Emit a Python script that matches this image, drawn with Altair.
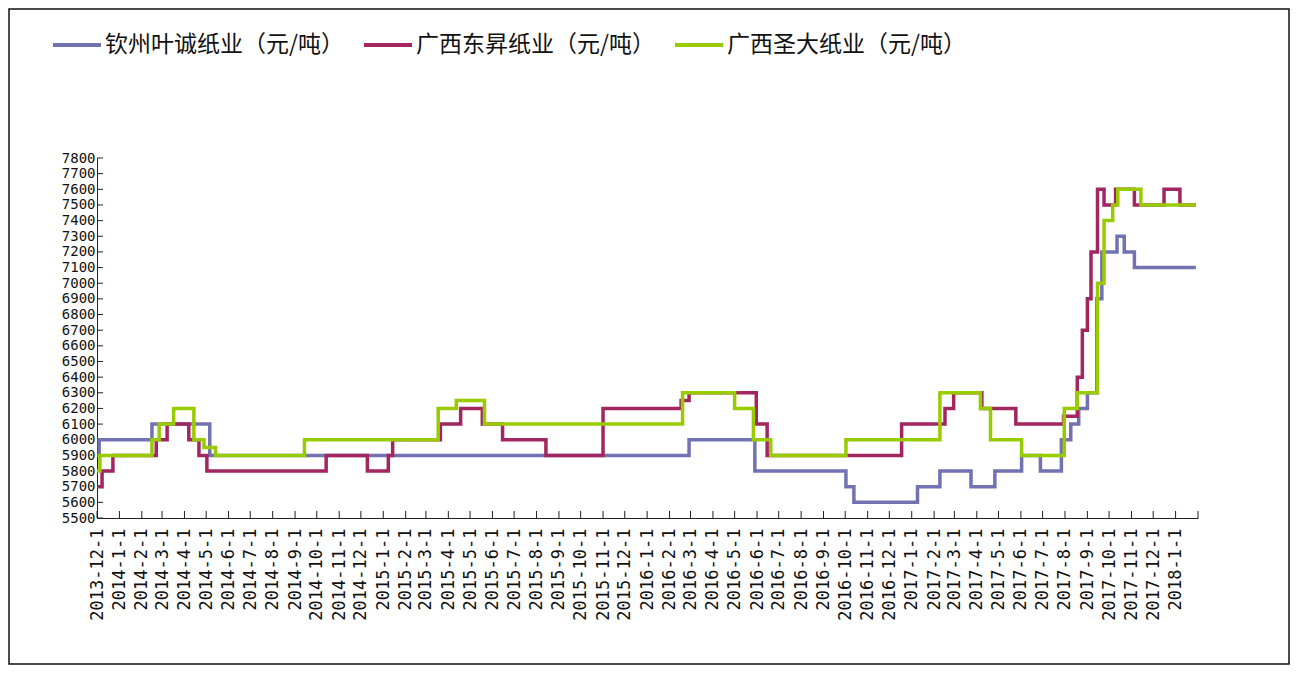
import altair as alt
import pandas as pd

SERIES = ["钦州叶诚纸业（元/吨）", "广西东昇纸业（元/吨）", "广西圣大纸业（元/吨）"]
COLORS = ["#7272b2", "#a2265f", "#99cc00"]

BLUE_DATES = ["2013-12-01", "2013-12-04", "2014-02-15", "2014-05-06", "2016-02-28", "2016-05-29",
              "2016-10-02", "2016-10-13", "2017-01-09", "2017-02-09", "2017-03-24", "2017-04-26",
              "2017-06-02", "2017-06-28", "2017-07-27", "2017-08-09", "2017-08-20", "2017-09-01",
              "2017-09-14", "2017-09-21", "2017-10-12", "2017-10-22", "2017-11-05", "2018-01-29"]
BLUE_VALUES = [5900, 6000, 6100, 5900, 6000, 5800, 5700, 5600, 5700, 5800, 5700, 5800,
               5900, 5800, 6000, 6100, 6200, 6300, 6900, 7200, 7300, 7200, 7100, 7100]

RED_DATES = ["2013-12-01", "2013-12-08", "2013-12-23", "2014-02-21", "2014-03-08", "2014-04-07",
             "2014-04-21", "2014-05-02", "2014-10-14", "2014-12-10", "2015-01-08", "2015-01-14",
             "2015-03-21", "2015-04-18", "2015-05-18", "2015-06-15", "2015-08-14", "2015-11-01",
             "2016-02-17", "2016-02-28", "2016-05-31", "2016-06-15", "2016-12-18", "2017-02-16",
             "2017-02-28", "2017-04-08", "2017-05-25", "2017-07-30", "2017-08-18", "2017-08-25",
             "2017-09-01", "2017-09-06", "2017-09-15", "2017-09-24", "2017-10-10", "2017-11-05",
             "2017-12-16", "2018-01-07", "2018-01-29"]
RED_VALUES = [5700, 5800, 5900, 6000, 6100, 6000, 5900, 5800, 5900, 5800, 5900, 6000,
              6100, 6200, 6100, 6000, 5900, 6200, 6250, 6300, 6100, 5900, 6100, 6200,
              6300, 6200, 6100, 6150, 6400, 6700, 6900, 7200, 7600, 7500, 7600, 7500,
              7600, 7500, 7500]

GREEN_DATES = ["2013-12-01", "2013-12-05", "2014-02-15", "2014-02-25", "2014-03-17", "2014-04-14",
               "2014-04-28", "2014-05-14", "2014-09-14", "2015-03-18", "2015-04-12", "2015-05-21",
               "2016-02-19", "2016-05-01", "2016-05-27", "2016-06-20", "2016-10-02", "2017-02-09",
               "2017-04-06", "2017-04-20", "2017-06-02", "2017-07-31", "2017-08-18", "2017-09-15",
               "2017-09-24", "2017-10-06", "2017-10-13", "2017-11-14", "2018-01-29"]
GREEN_VALUES = [5800, 5900, 6000, 6100, 6200, 6000, 5950, 5900, 6000, 6200, 6250, 6100,
                6300, 6200, 6000, 5900, 6000, 6300, 6200, 6000, 5900, 6200, 6300, 7000,
                7400, 7500, 7600, 7500, 7500]

Y_TICKS = list(range(5500, 7801, 100))
X_TICK_DATES = list(pd.date_range("2013-12-01", "2018-02-01", freq="MS").strftime("%Y-%m-%d"))
X_LABEL_DATES = X_TICK_DATES[:-1]

W, H = 1101, 360
PAD = {"left": 89, "top": 150, "right": 92, "bottom": 147}


def dt(s):
    y, m, d = (int(p) for p in s.split("-"))
    return alt.DateTime(year=y, month=m, date=d, utc=True)


x_enc = alt.X(
    "date:T",
    scale=alt.Scale(type="utc", domain=[dt("2013-12-01"), dt("2018-02-01")]),
    axis=alt.Axis(
        values=[dt(s) for s in X_LABEL_DATES],
        labelExpr="utcFormat(datum.value, '%Y-%-m-%-d')",
        labelAngle=270,
        labelFlush=False,
        labelOverlap=False,
        labelFont="DejaVu Sans Mono",
        labelFontSize=17,
        labelColor="#111111",
        labelPadding=10,
        ticks=False,
        grid=False,
        domainColor="#222222",
        title=None,
    ),
)
y_enc = alt.Y(
    "value:Q",
    scale=alt.Scale(domain=[5500, 7800], nice=False, zero=False),
    axis=alt.Axis(
        values=Y_TICKS,
        format="d",
        labelOverlap=False,
        labelFont="DejaVu Sans Mono",
        labelFontSize=14,
        labelColor="#111111",
        labelPadding=2,
        ticks=False,
        grid=False,
        domainColor="#222222",
        title=None,
    ),
)

color_enc = alt.Color(
    "series:N",
    scale=alt.Scale(domain=SERIES, range=COLORS),
    legend=alt.Legend(
        orient="none",
        legendX=-46,
        legendY=-139,
        direction="horizontal",
        title=None,
        symbolType="stroke",
        symbolSize=2304,
        symbolStrokeWidth=4,
        labelFont="Noto Sans CJK SC",
        labelFontSize=23,
        labelColor="#111111",
        labelLimit=500,
        labelOffset=2,
        columnPadding=11,
        padding=0,
    ),
)


def series_layer(name, dates, values):
    df = pd.DataFrame({"date": dates, "value": values, "series": name})
    return alt.Chart(df).mark_line(interpolate="step-after", strokeWidth=3.5).encode(
        x=x_enc, y=y_enc, color=color_enc
    )


layers = [
    series_layer(SERIES[0], BLUE_DATES, BLUE_VALUES),
    series_layer(SERIES[1], RED_DATES, RED_VALUES),
    series_layer(SERIES[2], GREEN_DATES, GREEN_VALUES),
]

ytick = alt.Chart(pd.DataFrame({"value": Y_TICKS})).mark_rule(
    color="#222222", strokeWidth=1
).encode(y=y_enc, x=alt.value(0), x2=alt.value(6))

xtick = alt.Chart(pd.DataFrame({"date": X_TICK_DATES})).mark_rule(
    color="#222222", strokeWidth=1
).encode(x=x_enc, y=alt.value(H), y2=alt.value(H - 7))

frame = alt.Chart(pd.DataFrame({"a": [0]})).mark_rect(
    fillOpacity=0, stroke="#111111", strokeWidth=1.5
).encode(
    x=alt.value(-PAD["left"] + 1),
    x2=alt.value(W + PAD["right"] - 1),
    y=alt.value(-PAD["top"] + 1),
    y2=alt.value(H + PAD["bottom"] - 1),
)

chart = alt.layer(frame, ytick, xtick, *layers).properties(
    width=W,
    height=H,
    autosize=alt.AutoSizeParams(type="none"),
    padding=PAD,
    background="white",
).configure_view(strokeWidth=0)

chart.save("out.html", embed_options={"renderer": "svg", "actions": False})
